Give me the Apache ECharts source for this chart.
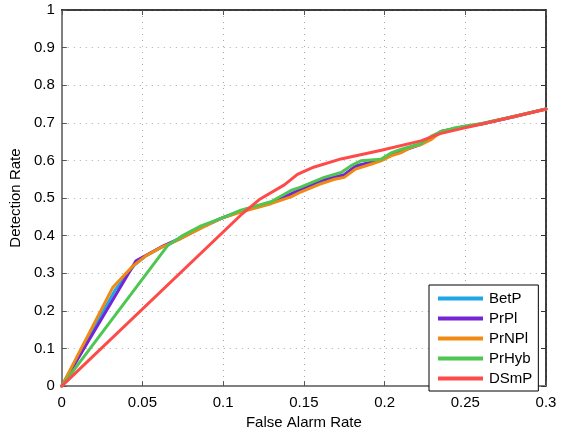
<!DOCTYPE html>
<html>
<head>
<meta charset="utf-8">
<script src="https://cdn.jsdelivr.net/npm/echarts@6/dist/echarts.min.js"></script>
<style>
  html, body { margin: 0; padding: 0; background: #fff; }
  #chart { width: 561px; height: 435px; }
</style>
</head>
<body>
<div id="chart"></div>
<script>
// ROC curves: detection rate versus false alarm rate for each decision rule
const xTicks = ['0', '0.05', '0.1', '0.15', '0.2', '0.25', '0.3'];
const yTicks = ['0', '0.1', '0.2', '0.3', '0.4', '0.5', '0.6', '0.7', '0.8', '0.9', '1'];

const seriesNames = ['BetP', 'PrPl', 'PrNPl', 'PrHyb', 'DSmP'];
const seriesColors = ['#1ea6e6', '#7524d6', '#f08a12', '#4ec652', '#ff4a4a'];

const betP = [
  [0, 0], [0.033, 0.255], [0.045, 0.322], [0.0523, 0.347], [0.0616, 0.369],
  [0.0739, 0.393], [0.0863, 0.421], [0.0987, 0.446], [0.111, 0.465],
  [0.1296, 0.487], [0.142, 0.508], [0.148, 0.52], [0.16, 0.543],
  [0.175, 0.56], [0.182, 0.582], [0.1915, 0.593], [0.1977, 0.6],
  [0.204, 0.615], [0.21, 0.624], [0.2225, 0.643], [0.2287, 0.659],
  [0.235, 0.677], [0.245, 0.686], [0.26, 0.697], [0.28, 0.716], [0.3, 0.737]
];

const prPl = [
  [0, 0], [0.046, 0.333], [0.0523, 0.348], [0.0616, 0.37], [0.0739, 0.394],
  [0.0863, 0.422], [0.0987, 0.446], [0.111, 0.465], [0.1296, 0.487],
  [0.142, 0.511], [0.148, 0.523], [0.16, 0.546], [0.175, 0.562],
  [0.182, 0.585], [0.1915, 0.595], [0.1977, 0.601], [0.204, 0.616],
  [0.21, 0.625], [0.2225, 0.643], [0.2287, 0.66], [0.235, 0.677],
  [0.245, 0.686], [0.26, 0.697], [0.28, 0.716], [0.3, 0.737]
];

const prNPl = [
  [0, 0], [0.0317, 0.263], [0.044, 0.319], [0.0523, 0.347], [0.0616, 0.369],
  [0.0678, 0.38], [0.0739, 0.393], [0.0863, 0.42], [0.0987, 0.446],
  [0.111, 0.463], [0.1296, 0.485], [0.142, 0.503], [0.148, 0.516],
  [0.16, 0.537], [0.169, 0.55], [0.175, 0.555], [0.182, 0.577],
  [0.1915, 0.59], [0.1977, 0.599], [0.204, 0.612], [0.21, 0.62],
  [0.216, 0.634], [0.2225, 0.642], [0.2287, 0.655], [0.235, 0.677],
  [0.245, 0.686], [0.26, 0.697], [0.28, 0.717], [0.3, 0.737]
];

const prHyb = [
  [0, 0], [0.0657, 0.374], [0.074, 0.398], [0.0863, 0.426], [0.0987, 0.446],
  [0.111, 0.468], [0.1296, 0.49], [0.142, 0.52], [0.148, 0.529],
  [0.1626, 0.555], [0.1731, 0.568], [0.1793, 0.586], [0.1853, 0.599],
  [0.1977, 0.603], [0.204, 0.62], [0.21, 0.629], [0.2225, 0.645],
  [0.2287, 0.664], [0.235, 0.677], [0.243, 0.686], [0.26, 0.698],
  [0.28, 0.717], [0.3, 0.737]
];

const dsmP = [
  [0, 0], [0.111, 0.455], [0.1224, 0.496], [0.1379, 0.535],
  [0.146, 0.563], [0.156, 0.582], [0.173, 0.604], [0.198, 0.627],
  [0.2225, 0.652], [0.235, 0.672], [0.249, 0.686], [0.2555, 0.692],
  [0.3, 0.736]
];

const seriesData = [betP, prPl, prNPl, prHyb, dsmP];

const FONT = 'Liberation Sans, Arial, sans-serif';
const grid = { left: 61, right: 15, top: 10, bottom: 43 };

const chart = echarts.init(document.getElementById('chart'), null, { renderer: 'canvas' });

const option = {
  animation: false,
  backgroundColor: '#fff',
  textStyle: { fontFamily: FONT },
  grid: grid,
  legend: {
    data: seriesNames,
    orient: 'vertical',
    left: 429,
    top: 285,
    icon: 'rect',
    itemWidth: 45,
    itemHeight: 4,
    itemGap: 5,
    padding: [6, 6, 5, 9],
    backgroundColor: '#fff',
    borderColor: '#000',
    borderWidth: 1,
    borderRadius: 0,
    textStyle: { fontSize: 15, color: '#000', fontFamily: FONT, padding: [0, 0, 0, 1] }
  },
  xAxis: [
    {
      type: 'value', min: 0, max: 0.3, interval: 0.05,
      name: 'False Alarm Rate', nameLocation: 'middle', nameGap: 26,
      nameTextStyle: { fontSize: 15, color: '#000', fontFamily: FONT },
      axisLine: { show: true, onZero: false, lineStyle: { color: '#808080', width: 2 } },
      axisTick: { show: true, inside: true, length: 5, lineStyle: { color: '#555', width: 1 } },
      axisLabel: { fontSize: 15, color: '#000', margin: 9, fontFamily: FONT,
                   formatter: (v, i) => xTicks[i] },
      splitLine: { show: true, lineStyle: { color: '#a8a8a8', width: 1, type: [1, 5] } }
    },
    {
      type: 'value', min: 0, max: 0.3, interval: 0.05, position: 'top',
      axisLine: { show: true, onZero: false, lineStyle: { color: '#000', width: 1.5 } },
      axisTick: { show: true, inside: true, length: 5, lineStyle: { color: '#555', width: 1 } },
      axisLabel: { show: false },
      splitLine: { show: false }
    }
  ],
  yAxis: [
    {
      type: 'value', min: 0, max: 1, interval: 0.1,
      name: 'Detection Rate', nameLocation: 'middle', nameGap: 31,
      nameTextStyle: { fontSize: 15, color: '#000', fontFamily: FONT },
      axisLine: { show: true, onZero: false, lineStyle: { color: '#808080', width: 2 } },
      axisTick: { show: true, inside: true, length: 5, lineStyle: { color: '#555', width: 1 } },
      axisLabel: { fontSize: 15, color: '#000', margin: 7, fontFamily: FONT,
                   formatter: (v, i) => yTicks[i] },
      splitLine: { show: true, lineStyle: { color: '#a8a8a8', width: 1, type: [1, 5] } }
    },
    {
      type: 'value', min: 0, max: 1, interval: 0.1, position: 'right',
      axisLine: { show: true, onZero: false, lineStyle: { color: '#000', width: 1.5 } },
      axisTick: { show: true, inside: true, length: 5, lineStyle: { color: '#333', width: 1 } },
      axisLabel: { show: false },
      splitLine: { show: false }
    }
  ],
  series: seriesNames.map((name, k) => ({
    name: name,
    type: 'line',
    data: seriesData[k],
    xAxisIndex: 0,
    yAxisIndex: 0,
    showSymbol: false,
    symbol: 'none',
    color: seriesColors[k],
    lineStyle: { width: 3, color: seriesColors[k], cap: 'round', join: 'round' },
    z: 2 + k
  }))
};

chart.setOption(option);
</script>
</body>
</html>
